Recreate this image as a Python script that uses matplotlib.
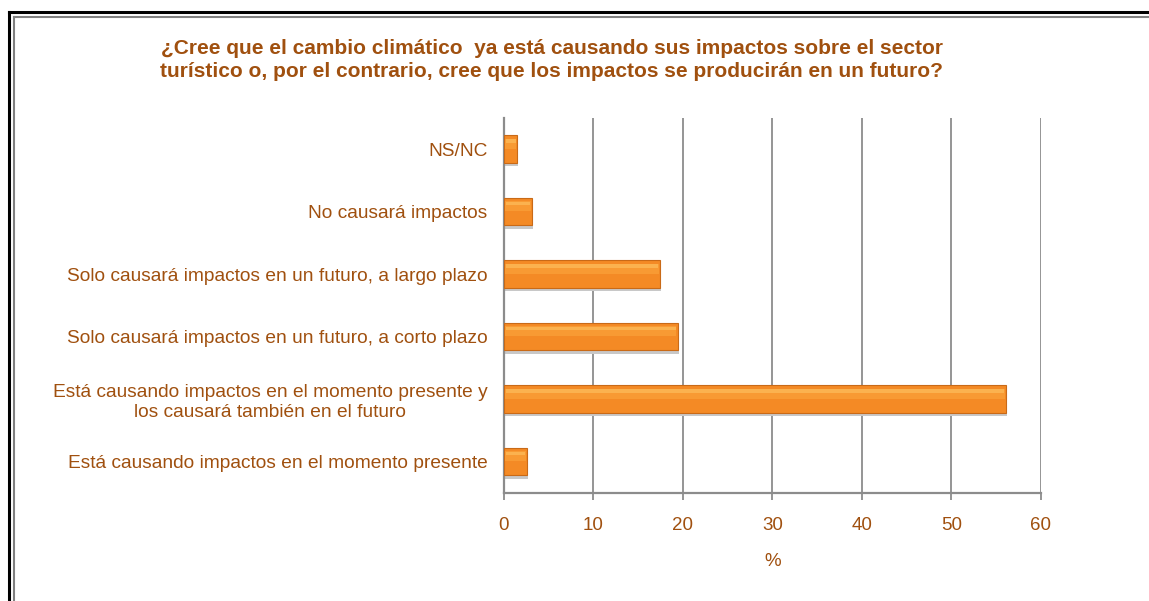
import matplotlib.pyplot as plt
from matplotlib.lines import Line2D

plt.rcParams['font.family'] = ['Liberation Sans', 'DejaVu Sans']

# Data (bottom to top, as drawn)
labels = ["Está causando impactos en el momento presente",
          "Está causando impactos en el momento presente y\nlos causará también en el futuro",
          "Solo causará impactos en un futuro, a corto plazo",
          "Solo causará impactos en un futuro, a largo plazo",
          "No causará impactos",
          "NS/NC"]
values = [2.6, 56.1, 19.4, 17.4, 3.1, 1.5]
xticks = [0, 10, 20, 30, 40, 50, 60]

brown = '#A0500F'
grid_col = '#8C8C8C'

fig = plt.figure(figsize=(11.49, 6.01), dpi=100)
ax = fig.add_axes([0.4386, 0.1797, 0.4674, 0.624])

pos = list(range(len(labels)))
h = 0.44

# shadow, body, highlight
ax.barh([p - 0.05 for p in pos], [v + 0.12 for v in values], height=h,
        color='#C8C8C8', zorder=2)
ax.barh(pos, values, height=h, color='#F48A25', edgecolor='#C96A17',
        linewidth=0.8, zorder=3)
ax.barh([p + h * 0.2 for p in pos], [v - 0.25 for v in values], height=h * 0.36,
        left=0.12, color='#F89A33', linewidth=0, zorder=4)
ax.barh([p + h * 0.3 for p in pos], [v - 0.4 for v in values], height=h * 0.14,
        left=0.2, color='#FBB24F', linewidth=0, zorder=5)

ax.set_xlim(0, 60)
ax.set_ylim(-0.5, 5.5)
ax.set_xticks(xticks)
ax.xaxis.grid(True, color=grid_col, linewidth=1.3, zorder=0)
ax.set_axisbelow(True)

ax.set_yticks(pos)
ax.set_yticklabels(labels, fontsize=13.8, color=brown, multialignment='center',
                   linespacing=1.25)
ax.tick_params(axis='y', length=0, pad=12)
ax.tick_params(axis='x', length=5, width=1.3, color=grid_col, pad=12,
               labelsize=13.5, labelcolor=brown)

for s in ['top', 'right']:
    ax.spines[s].set_visible(False)
for s in ['left', 'bottom']:
    ax.spines[s].set_color(grid_col)
    ax.spines[s].set_linewidth(1.6)

ax.set_xlabel('%', fontsize=13.5, color=brown, labelpad=14)

fig.text(0.48, 0.9, '¿Cree que el cambio climático  ya está causando sus impactos sobre el sector\n'
         'turístico o, por el contrario, cree que los impactos se producirán en un futuro?',
         ha='center', va='center', fontsize=15, fontweight='bold', color=brown,
         linespacing=1.3)

# frame lines
W, H = 1149, 601
fig.add_artist(Line2D([9 / W, 9 / W], [0, 1 - 12 / H], color='black', linewidth=2.2))
fig.add_artist(Line2D([9 / W, 1], [1 - 12 / H, 1 - 12 / H], color='black', linewidth=2.2))
fig.add_artist(Line2D([14 / W, 14 / W], [0, 1 - 17 / H], color='#808080', linewidth=1.5))
fig.add_artist(Line2D([14 / W, 1], [1 - 17 / H, 1 - 17 / H], color='#808080', linewidth=1.5))

fig.savefig('out.png', dpi=100)
